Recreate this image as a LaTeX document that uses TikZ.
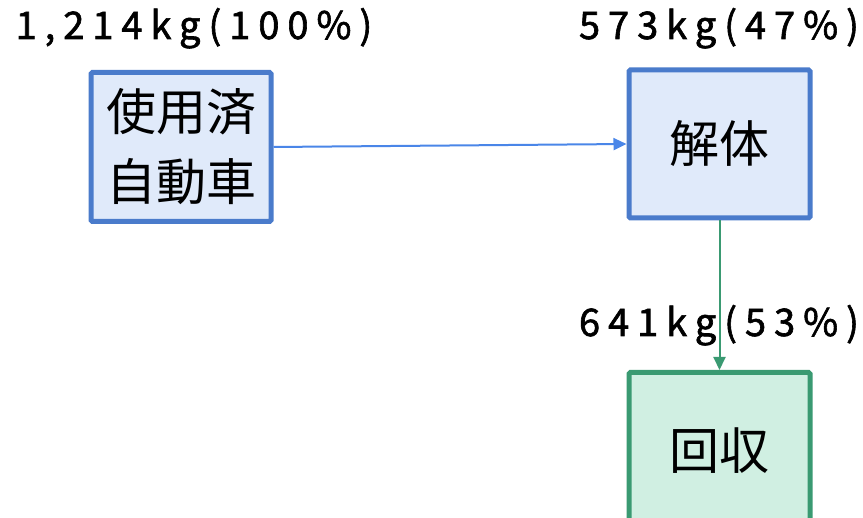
\documentclass[tikz,border=0pt]{standalone}
\usepackage{fontspec}
\setmainfont{Noto Sans CJK JP}
\newfontfamily\labfont[LetterSpace=21,FakeBold=1.6]{Noto Sans CJK JP}
\newfontfamily\boxfont{Noto Sans CJK JP}
\usetikzlibrary{arrows.meta}
\definecolor{bluebd}{HTML}{4A7BCB}
\definecolor{bluefill}{HTML}{E0EAFA}
\definecolor{bluearr}{HTML}{4A86E8}
\definecolor{greenbd}{HTML}{3A9A72}
\definecolor{greenfill}{HTML}{D0EFE2}
\begin{document}
\begin{tikzpicture}[x=1pt,y=-1pt,
  bluebox/.style={draw=bluebd,fill=bluefill,line width=5pt,rounded corners=1.5pt,
    minimum width=180pt,minimum height=149pt,inner sep=0pt,align=center,
    font=\boxfont\fontsize{50}{70}\selectfont},
  greenbox/.style={draw=greenbd,fill=greenfill,line width=5pt,rounded corners=1.5pt,
    minimum width=181pt,minimum height=220pt,inner sep=0pt,align=center,
    font=\boxfont\fontsize{50}{70}\selectfont},
  lab/.style={anchor=base,inner sep=0pt,font=\labfont\fontsize{38}{40}\selectfont},
  conn/.style={line width=2pt,-{Triangle[length=13pt,width=12pt]}}
]
\useasboundingbox (0,0) rectangle (863,518);
\clip (0,0) rectangle (863,518);
\fill[white] (0,0) rectangle (863,518);
\node[bluebox] (car) at (181,147) {使用済\\自動車};
\node[bluebox,minimum width=181pt,minimum height=148pt] (kai) at (719.5,144) {解体};
\node[greenbox,anchor=north] (kai2) at (719.5,370) {};
\node[font=\boxfont\fontsize{50}{70}\selectfont,inner sep=0pt] (kaishu) at (719.5,451) {回収};
\node[lab] (l1) at (194,39) {1,214kg(100\%)};
\node[lab] (l2) at (719,39) {573kg(47\%)};
\node[lab] (l3) at (719,336) {641kg(53\%)};
\draw[conn,bluearr] (car.east) -- (kai.west);
\draw[conn,greenbd] (kai.south) -- (kai2.north);
\end{tikzpicture}
\end{document}
